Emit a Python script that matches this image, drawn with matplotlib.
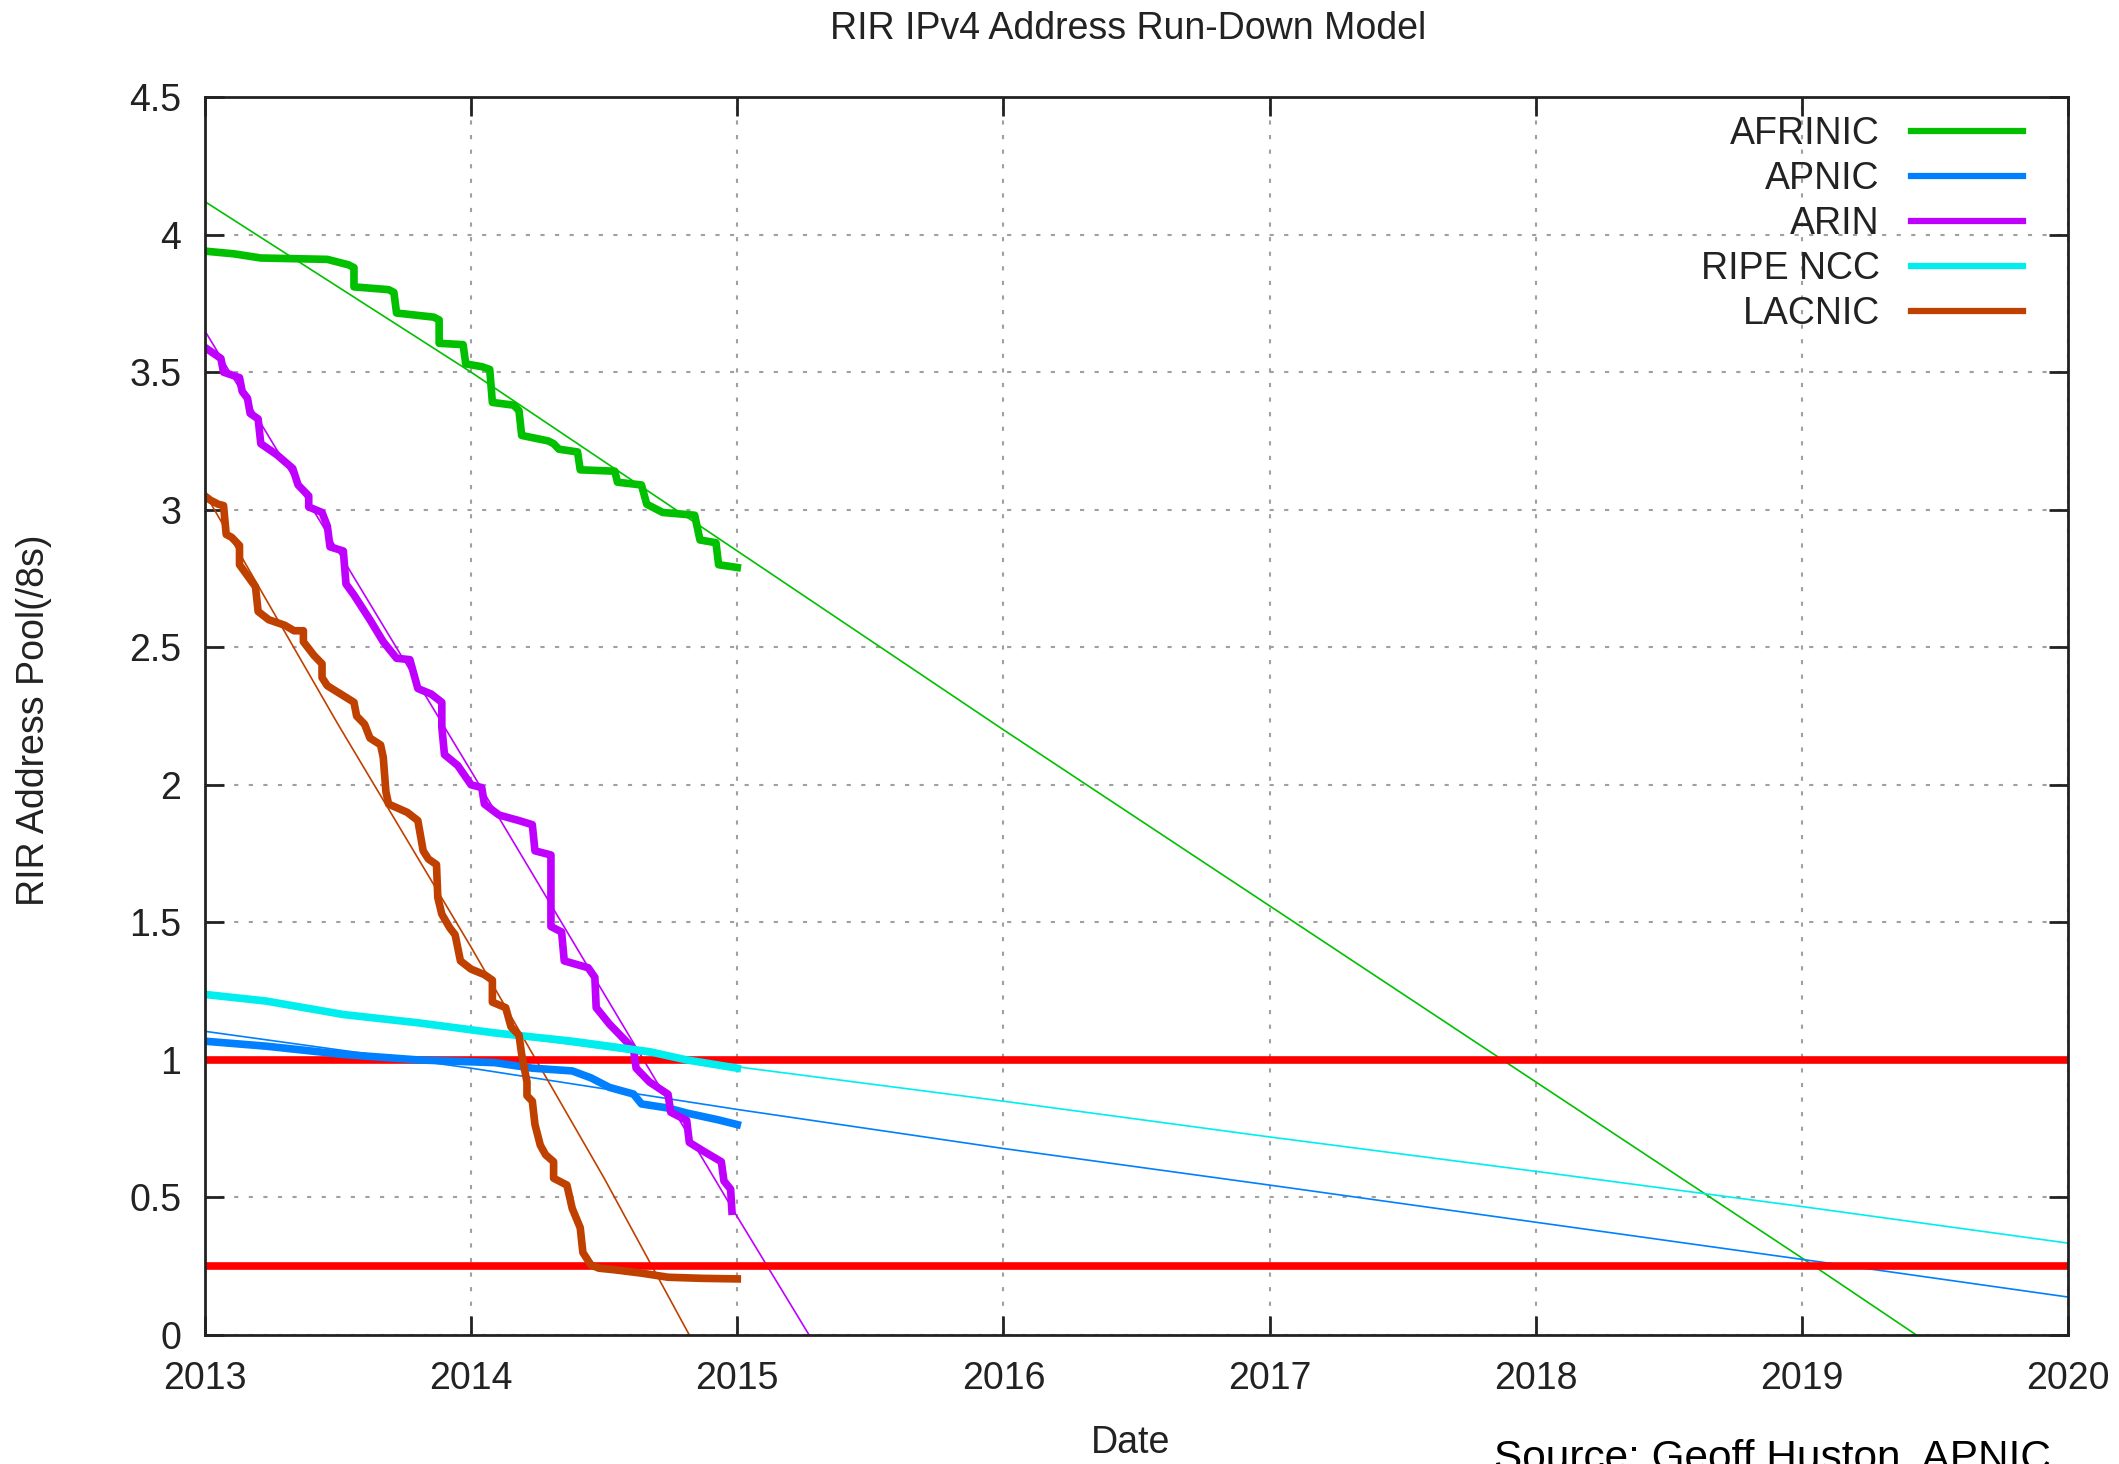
import matplotlib
matplotlib.use('Agg')
import matplotlib.pyplot as plt

plt.rcParams['font.family'] = ['Liberation Sans', 'DejaVu Sans']

# Colours as used by the original gnuplot output
AFRINIC_COLOR = '#00c000'
APNIC_COLOR = '#0080ff'
ARIN_COLOR = '#c000ff'
RIPE_COLOR = '#00eeee'
LACNIC_COLOR = '#c04000'

# Thresholds drawn as red horizontal lines (/8s)
THRESHOLDS = [1.0, 0.25]

x_ticks = [2013, 2014, 2015, 2016, 2017, 2018, 2019, 2020]
y_ticks = [0, 0.5, 1, 1.5, 2, 2.5, 3, 3.5, 4, 4.5]
y_tick_labels = ['0', '0.5', '1', '1.5', '2', '2.5', '3', '3.5', '4', '4.5']

afrinic_date = [2013.00, 2013.11, 2013.21, 2013.46, 2013.54, 2013.56, 2013.56, 2013.69, 2013.71,
                2013.72, 2013.86, 2013.88, 2013.88, 2013.97, 2013.98, 2014.04, 2014.07, 2014.08,
                2014.16, 2014.18, 2014.19, 2014.29, 2014.31, 2014.33, 2014.40, 2014.41, 2014.54,
                2014.55, 2014.64, 2014.66, 2014.72, 2014.84, 2014.86, 2014.92, 2014.93, 2015.00]
afrinic_pool = [3.94, 3.93, 3.915, 3.91, 3.89, 3.88, 3.81, 3.80, 3.79,
                3.715, 3.70, 3.69, 3.605, 3.60, 3.53, 3.52, 3.51, 3.39,
                3.38, 3.36, 3.27, 3.25, 3.24, 3.22, 3.21, 3.145, 3.14,
                3.10, 3.09, 3.02, 2.99, 2.98, 2.89, 2.88, 2.80, 2.79]

arin_date = [2013.00, 2013.06, 2013.07, 2013.13, 2013.14, 2013.16, 2013.17, 2013.20, 2013.21,
             2013.27, 2013.33, 2013.35, 2013.39, 2013.39, 2013.44, 2013.46, 2013.47, 2013.52,
             2013.53, 2013.56, 2013.62, 2013.67, 2013.72, 2013.77, 2013.80, 2013.85, 2013.89,
             2013.89, 2013.90, 2013.95, 2014.00, 2014.04, 2014.05, 2014.105, 2014.18, 2014.23,
             2014.24, 2014.30, 2014.30, 2014.34, 2014.35, 2014.44, 2014.465, 2014.47, 2014.52,
             2014.58, 2014.61, 2014.62, 2014.67, 2014.74, 2014.75, 2014.81, 2014.82, 2014.87,
             2014.94, 2014.95, 2014.975, 2014.98]
arin_pool = [3.59, 3.55, 3.50, 3.48, 3.43, 3.405, 3.35, 3.33, 3.24,
             3.20, 3.15, 3.09, 3.05, 3.01, 2.99, 2.94, 2.865, 2.85,
             2.73, 2.69, 2.60, 2.52, 2.46, 2.455, 2.35, 2.33, 2.30,
             2.21, 2.11, 2.07, 2.00, 1.99, 1.93, 1.89, 1.87, 1.855,
             1.76, 1.745, 1.485, 1.465, 1.36, 1.335, 1.30, 1.19, 1.13,
             1.07, 1.04, 0.97, 0.92, 0.875, 0.81, 0.78, 0.70, 0.67,
             0.63, 0.56, 0.53, 0.45]

lacnic_date = [2013.00, 2013.02, 2013.05, 2013.07, 2013.08, 2013.10, 2013.13, 2013.13, 2013.16,
               2013.19, 2013.20, 2013.24, 2013.30, 2013.335, 2013.37, 2013.37, 2013.41, 2013.44,
               2013.44, 2013.46, 2013.51, 2013.56, 2013.57, 2013.60, 2013.62, 2013.66, 2013.67,
               2013.68, 2013.69, 2013.76, 2013.80, 2013.82, 2013.84, 2013.87, 2013.875, 2013.89,
               2013.92, 2013.94, 2013.96, 2014.00, 2014.05, 2014.08, 2014.08, 2014.13, 2014.15,
               2014.18, 2014.19, 2014.21, 2014.21, 2014.23, 2014.24, 2014.26, 2014.28, 2014.31,
               2014.31, 2014.36, 2014.38, 2014.41, 2014.42, 2014.45, 2014.48, 2014.54, 2014.64,
               2014.74, 2014.87, 2015.00]
lacnic_pool = [3.05, 3.035, 3.02, 3.015, 2.91, 2.90, 2.87, 2.80, 2.76,
               2.72, 2.63, 2.60, 2.58, 2.56, 2.56, 2.52, 2.47, 2.44,
               2.39, 2.36, 2.33, 2.30, 2.25, 2.22, 2.17, 2.145, 2.10,
               1.975, 1.93, 1.90, 1.87, 1.76, 1.73, 1.71, 1.59, 1.53,
               1.48, 1.455, 1.36, 1.33, 1.31, 1.29, 1.21, 1.19, 1.12,
               1.09, 1.02, 0.92, 0.87, 0.85, 0.765, 0.69, 0.655, 0.63,
               0.57, 0.545, 0.46, 0.39, 0.30, 0.255, 0.243, 0.237, 0.225,
               0.21, 0.206, 0.204]

apnic_date = [2013.00, 2013.23, 2013.52, 2013.80, 2014.09, 2014.23, 2014.38, 2014.45, 2014.52,
              2014.61, 2014.64, 2014.74, 2014.81, 2014.925, 2015.00]
apnic_pool = [1.068, 1.05, 1.02, 1.00, 0.99, 0.97, 0.96, 0.935, 0.90,
              0.876, 0.84, 0.825, 0.807, 0.783, 0.765]

ripe_date = [2013.00, 2013.23, 2013.52, 2013.80, 2014.09, 2014.38, 2014.67, 2014.81, 2015.00]
ripe_pool = [1.238, 1.214, 1.165, 1.135, 1.098, 1.068, 1.03, 1.00, 0.97]

# Run-down model (thin lines)
afrinic_model_date = [2013.0, 2014.0, 2015.0, 2016.0, 2017.0, 2018.0, 2019.0, 2019.43]
afrinic_model_pool = [4.12, 3.50, 2.85, 2.20, 1.56, 0.92, 0.28, 0.0]

arin_model_date = [2013.0, 2014.0, 2015.0, 2015.27]
arin_model_pool = [3.65, 2.05, 0.43, 0.0]

lacnic_model_date = [2013.0, 2013.5, 2014.0, 2014.5, 2014.82]
lacnic_model_pool = [3.06, 2.22, 1.41, 0.57, 0.0]

apnic_model_date = [2013.0, 2014.0, 2015.0, 2016.0, 2017.0, 2018.0, 2019.0, 2020.0]
apnic_model_pool = [1.104, 0.97, 0.82, 0.678, 0.545, 0.41, 0.275, 0.138]

ripe_model_date = [2013.0, 2014.0, 2015.0, 2016.0, 2017.0, 2018.0, 2019.0, 2020.0]
ripe_model_pool = [1.24, 1.105, 0.975, 0.85, 0.72, 0.595, 0.467, 0.334]


def main():
    fig = plt.figure(figsize=(21.19, 14.64), dpi=100)
    ax = fig.add_axes([0.0967, 0.0881, 0.8793, 0.8456])

    ax.set_xlim(2013, 2020)
    ax.set_ylim(0, 4.5)

    # Grid, gnuplot style
    ax.grid(True, color='#a0a0a0', linestyle=(0, (2, 5)), linewidth=1.5)
    ax.set_axisbelow(True)

    thin = 1.2
    thick = 5.5

    # Models first so the recorded data sit on top
    ax.plot(afrinic_model_date, afrinic_model_pool, color=AFRINIC_COLOR, lw=thin)
    ax.plot(apnic_model_date, apnic_model_pool, color=APNIC_COLOR, lw=thin)
    ax.plot(arin_model_date, arin_model_pool, color=ARIN_COLOR, lw=thin)
    ax.plot(ripe_model_date, ripe_model_pool, color=RIPE_COLOR, lw=thin)
    ax.plot(lacnic_model_date, lacnic_model_pool, color=LACNIC_COLOR, lw=thin)

    for level in THRESHOLDS:
        ax.axhline(level, color='#ff0000', lw=5.5, zorder=2)

    h1, = ax.plot(afrinic_date, afrinic_pool, color=AFRINIC_COLOR, lw=thick, label='AFRINIC')
    h2, = ax.plot(apnic_date, apnic_pool, color=APNIC_COLOR, lw=thick, label='APNIC')
    h3, = ax.plot(arin_date, arin_pool, color=ARIN_COLOR, lw=thick, label='ARIN')
    h4, = ax.plot(ripe_date, ripe_pool, color=RIPE_COLOR, lw=thick, label='RIPE NCC')
    h5, = ax.plot(lacnic_date, lacnic_pool, color=LACNIC_COLOR, lw=thick, label='LACNIC')

    # Ticks on all four sides, pointing in
    ax.set_xticks(x_ticks)
    ax.set_xticklabels([str(y) for y in x_ticks])
    ax.set_yticks(y_ticks)
    ax.set_yticklabels(y_tick_labels)
    ax.tick_params(direction='in', length=14, width=2, top=True, right=True,
                   labelsize=27, colors='#222222')
    ax.tick_params(axis='x', pad=19)
    ax.tick_params(axis='y', pad=17)
    for s in ax.spines.values():
        s.set_linewidth(2)
        s.set_color('#222222')

    leg = ax.legend(handles=[h1, h2, h3, h4, h5], loc='upper right', frameon=False,
                    bbox_to_anchor=(0.976, 0.9845), borderaxespad=0, borderpad=0,
                    markerfirst=False, fontsize=27, handlelength=3.0, handletextpad=0.83,
                    labelspacing=0.24)
    for line in leg.get_lines():
        line.set_linewidth(4.5)
    for t in leg.get_texts():
        t.set_color('#222222')

    fig.text(0.5325, 0.980, 'RIR IPv4 Address Run-Down Model', ha='center', va='center',
             fontsize=27, color='#222222')
    fig.text(0.5335, 0.0143, 'Date', ha='center', va='center', fontsize=27, color='#222222')
    fig.text(0.016, 0.508, 'RIR Address Pool(/8s)', ha='center', va='center', rotation=90,
             fontsize=27, color='#222222')
    # the source note sits right on the bottom edge, partly cut, as in the original
    fig.text(0.705, -0.004, 'Source: Geoff Huston, APNIC', ha='left', va='baseline',
             fontsize=30.5, color='black')

    fig.savefig('out.png', dpi=100)


if __name__ == '__main__':
    main()
